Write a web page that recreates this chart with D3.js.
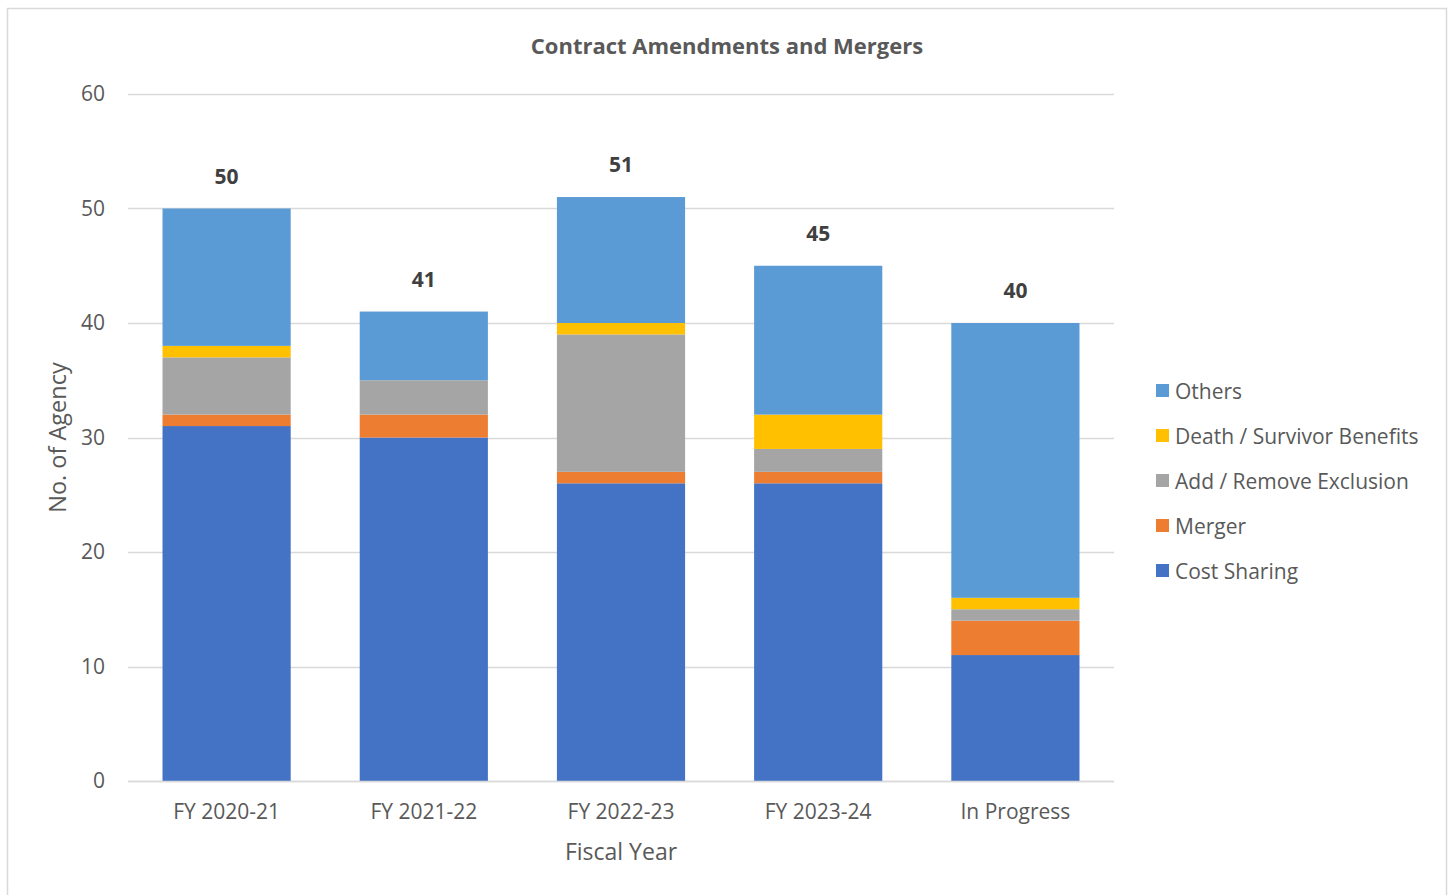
<!DOCTYPE html>
<html>
<head>
<meta charset="utf-8">
<script src="https://cdn.jsdelivr.net/npm/d3@7"></script>
<style>
  body { margin: 0; background: #fff; }
  svg text { font-family: "Open Sans", sans-serif; fill: #595959; }
</style>
</head>
<body>
<div id="chart"></div>
<script>
// data
const categories = ['FY 2020-21', 'FY 2021-22', 'FY 2022-23', 'FY 2023-24', 'In Progress'];
const seriesNames = ['Cost Sharing', 'Merger', 'Add / Remove Exclusion', 'Death / Survivor Benefits', 'Others'];
const costSharing = [31, 30, 26, 26, 11];
const merger = [1, 2, 1, 1, 3];
const addRemove = [5, 3, 12, 2, 1];
const deathSurvivor = [1, 0, 1, 3, 1];
const others = [12, 6, 11, 13, 24];
const totals = [50, 41, 51, 45, 40];
const yTicks = [0, 10, 20, 30, 40, 50, 60];
const colors = ['#4472C4', '#ED7D31', '#A5A5A5', '#FFC000', '#5B9BD5'];

const width = 1450, height = 895;
const margin = { left: 128, right: 336, top: 94, bottom: 114 };

const svg = d3.select('#chart').append('svg')
    .attr('width', width)
    .attr('height', height);

// chart frame
svg.append('rect')
    .attr('x', 7.5).attr('y', 8.5)
    .attr('width', 1439).attr('height', 900)
    .attr('fill', 'none')
    .attr('stroke', '#d9d9d9')
    .attr('stroke-width', 1.5);

const rows = categories.map((c, i) => ({
    cat: c,
    'Cost Sharing': costSharing[i],
    'Merger': merger[i],
    'Add / Remove Exclusion': addRemove[i],
    'Death / Survivor Benefits': deathSurvivor[i],
    'Others': others[i]
}));

const x = d3.scaleBand()
    .domain(categories)
    .range([margin.left, width - margin.right])
    .paddingInner(0.35)
    .paddingOuter(0.175);

const y = d3.scaleLinear()
    .domain([0, 60])
    .range([height - margin.bottom, margin.top]);

// gridlines
svg.append('g')
    .selectAll('line')
    .data(yTicks)
    .join('line')
    .attr('x1', margin.left)
    .attr('x2', width - margin.right)
    .attr('y1', d => Math.round(y(d)) + 0.5)
    .attr('y2', d => Math.round(y(d)) + 0.5)
    .style('stroke', '#d9d9d9')
    .style('stroke-width', 1.5);

// y tick labels
const yAxis = svg.append('g')
    .attr('transform', `translate(${margin.left},0)`)
    .call(d3.axisLeft(y).tickValues(yTicks).tickSize(0).tickPadding(23));
yAxis.select('.domain').remove();
yAxis.selectAll('text')
    .style('font-size', '21px')
    .attr('fill', '#595959');

const stack = d3.stack().keys(seriesNames);
const stacked = stack(rows);

svg.append('g')
    .selectAll('g')
    .data(stacked)
    .join('g')
    .attr('fill', (d, i) => colors[i])
    .selectAll('rect')
    .data(d => d)
    .join('rect')
    .attr('x', d => x(d.data.cat))
    .attr('width', x.bandwidth())
    .attr('y', d => y(d[1]))
    .attr('height', d => y(d[0]) - y(d[1]));

// x axis line on top of bars
svg.append('line')
    .attr('x1', margin.left)
    .attr('x2', width - margin.right)
    .attr('y1', Math.round(y(0)) + 0.5)
    .attr('y2', Math.round(y(0)) + 0.5)
    .style('stroke', '#d9d9d9')
    .style('stroke-width', 1.5);

// x tick labels
const xAxis = svg.append('g')
    .attr('transform', `translate(0,${y(0)})`)
    .call(d3.axisBottom(x).tickSize(0).tickPadding(23));
xAxis.select('.domain').remove();
xAxis.selectAll('text')
    .style('font-size', '21px')
    .attr('fill', '#595959');

// totals above bars
svg.append('g')
    .selectAll('text')
    .data(categories)
    .join('text')
    .attr('x', d => x(d) + x.bandwidth() / 2)
    .attr('y', (d, i) => y(totals[i]) - 25)
    .attr('text-anchor', 'middle')
    .style('font-size', '21px')
    .style('font-weight', 'bold')
    .style('fill', '#404040')
    .text((d, i) => totals[i]);

// title
svg.append('text')
    .attr('x', 727)
    .attr('y', 54)
    .attr('text-anchor', 'middle')
    .style('font-size', '22px')
    .style('font-weight', 'bold')
    .text('Contract Amendments and Mergers');

// axis titles
svg.append('text')
    .attr('x', (margin.left + width - margin.right) / 2)
    .attr('y', 860)
    .attr('text-anchor', 'middle')
    .style('font-size', '23px')
    .text('Fiscal Year');

svg.append('text')
    .attr('transform', `translate(66,${(y(0) + y(60)) / 2}) rotate(-90)`)
    .attr('text-anchor', 'middle')
    .style('font-size', '23.5px')
    .text('No. of Agency');

// legend, top to bottom reversed
const legendItems = seriesNames.map((n, i) => ({ name: n, color: colors[i] })).reverse();
const legend = svg.append('g')
    .selectAll('g')
    .data(legendItems)
    .join('g')
    .attr('transform', (d, i) => `translate(1156,${391 + i * 45})`);
legend.append('rect')
    .attr('x', 0).attr('y', -7)
    .attr('width', 13).attr('height', 13)
    .attr('fill', d => d.color);
legend.append('text')
    .attr('x', 19)
    .attr('y', 7.5)
    .style('font-size', '21px')
    .text(d => d.name);
</script>
</body>
</html>
